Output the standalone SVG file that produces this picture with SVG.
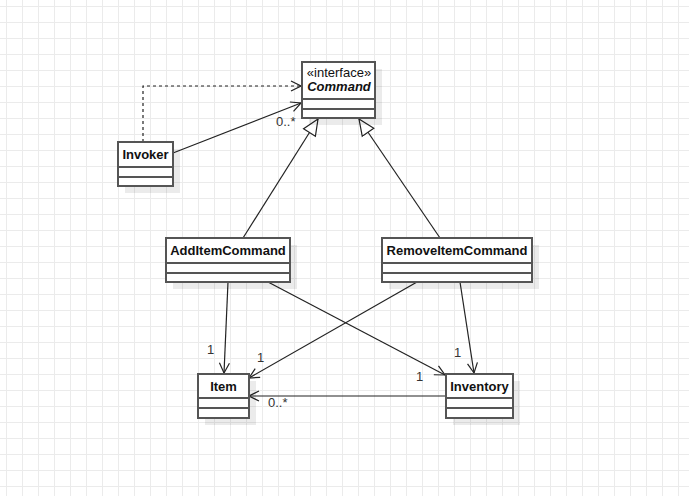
<svg xmlns="http://www.w3.org/2000/svg" width="689" height="496" viewBox="0 0 689 496">
  <defs>
    <pattern id="grid" x="6" y="6" width="16" height="16" patternUnits="userSpaceOnUse">
      <path d="M0.5 0V16M0 0.5H16" fill="none" stroke="#ebebeb" stroke-width="1"/>
    </pattern>
    <marker id="open" viewBox="0 0 12 12" refX="11" refY="6" markerWidth="12" markerHeight="12" markerUnits="userSpaceOnUse" orient="auto">
      <path d="M1 1L11 6L1 11" fill="none" stroke="#222" stroke-width="1.2"/>
    </marker>
    <marker id="tri" viewBox="0 0 18 18" refX="17" refY="9" markerWidth="18" markerHeight="18" markerUnits="userSpaceOnUse" orient="auto">
      <path d="M1 2L17 9L1 16Z" fill="#fff" stroke="#222" stroke-width="1.2"/>
    </marker>
  </defs>
  <style>
    .shadow { fill: #000; opacity: 0.08; }
    .box { fill: #fff; stroke: #555; stroke-width: 2; }
    .sep { stroke: #555; stroke-width: 2; }
    .name { font-family: "Liberation Sans", Arial, sans-serif; font-size: 13px; font-weight: bold; fill: #111; text-anchor: middle; }
    .stereo { font-family: "Liberation Sans", Arial, sans-serif; font-size: 13px; fill: #111; text-anchor: middle; }
    .iface { font-family: "Liberation Sans", Arial, sans-serif; font-size: 13px; font-weight: bold; font-style: italic; fill: #111; text-anchor: middle; }
    .edge { fill: none; stroke: #222; stroke-width: 1.2; }
    .dash { stroke-dasharray: 3 3; }
    .mult { font-family: "Liberation Sans", Arial, sans-serif; font-size: 13px; fill: #333; }
  </style>
  <rect width="689" height="496" fill="#fff"/>
  <rect width="689" height="496" fill="url(#grid)"/>

  <g id="connectors">
    <!-- Invoker uses Command (dependency) -->
    <path class="edge dash" d="M143 142V86H301" marker-end="url(#open)"/>
    <!-- Invoker holds Command instances -->
    <path class="edge" d="M173 153L301 103" marker-end="url(#open)"/>
    <text class="mult" x="276" y="126">0..*</text>
    <!-- realizations -->
    <path class="edge" d="M243 238L318 119" marker-end="url(#tri)"/>
    <path class="edge" d="M440 238L359 119" marker-end="url(#tri)"/>
    <!-- AddItemCommand associations -->
    <path class="edge" d="M228 282L224 373" marker-end="url(#open)"/>
    <text class="mult" x="207" y="354">1</text>
    <path class="edge" d="M268 282L445 375" marker-end="url(#open)"/>
    <text class="mult" x="416" y="381">1</text>
    <!-- RemoveItemCommand associations -->
    <path class="edge" d="M417 282L249 378" marker-end="url(#open)"/>
    <text class="mult" x="257" y="362">1</text>
    <path class="edge" d="M460 282L474 373" marker-end="url(#open)"/>
    <text class="mult" x="454" y="357">1</text>
    <!-- Inventory aggregates Items -->
    <path class="edge" d="M446 396H249" marker-end="url(#open)"/>
    <text class="mult" x="268" y="407">0..*</text>
  </g>

  <g id="command">
    <rect class="shadow" x="309" y="69" width="73" height="56"/>
    <rect class="box" x="302" y="62" width="73" height="56"/>
    <line class="sep" x1="302" y1="99" x2="375" y2="99"/>
    <line class="sep" x1="302" y1="109" x2="375" y2="109"/>
    <text class="stereo" x="339" y="77">«interface»</text>
    <text class="iface" x="339" y="91">Command</text>
  </g>

  <g id="invoker">
    <rect class="shadow" x="125" y="149" width="55" height="44"/>
    <rect class="box" x="118" y="142" width="55" height="44"/>
    <line class="sep" x1="118" y1="167" x2="173" y2="167"/>
    <line class="sep" x1="118" y1="177" x2="173" y2="177"/>
    <text class="name" x="145.5" y="159">Invoker</text>
  </g>

  <g id="add-item-command">
    <rect class="shadow" x="173" y="245" width="124" height="44"/>
    <rect class="box" x="166" y="238" width="124" height="44"/>
    <line class="sep" x1="166" y1="263" x2="290" y2="263"/>
    <line class="sep" x1="166" y1="273" x2="290" y2="273"/>
    <text class="name" x="228" y="255">AddItemCommand</text>
  </g>

  <g id="remove-item-command">
    <rect class="shadow" x="389" y="245" width="150" height="44"/>
    <rect class="box" x="382" y="238" width="150" height="44"/>
    <line class="sep" x1="382" y1="263" x2="532" y2="263"/>
    <line class="sep" x1="382" y1="273" x2="532" y2="273"/>
    <text class="name" x="457" y="255">RemoveItemCommand</text>
  </g>

  <g id="item">
    <rect class="shadow" x="205" y="381" width="51" height="44"/>
    <rect class="box" x="198" y="374" width="51" height="44"/>
    <line class="sep" x1="198" y1="398" x2="249" y2="398"/>
    <line class="sep" x1="198" y1="408" x2="249" y2="408"/>
    <text class="name" x="223.5" y="391">Item</text>
  </g>

  <g id="inventory">
    <rect class="shadow" x="453" y="381" width="67" height="44"/>
    <rect class="box" x="446" y="374" width="67" height="44"/>
    <line class="sep" x1="446" y1="398" x2="513" y2="398"/>
    <line class="sep" x1="446" y1="408" x2="513" y2="408"/>
    <text class="name" x="479.5" y="391">Inventory</text>
  </g>
</svg>
